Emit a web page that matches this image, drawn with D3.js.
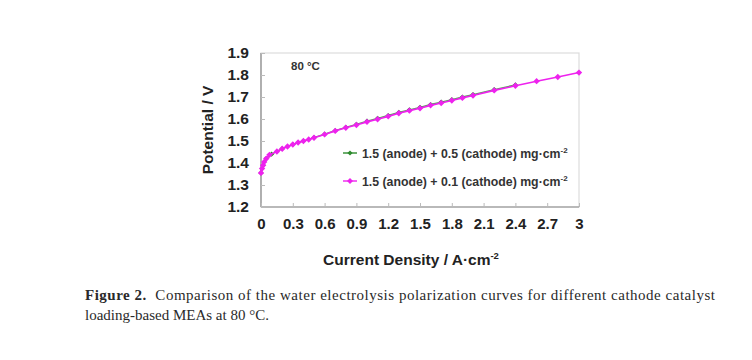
<!DOCTYPE html>
<html><head><meta charset="utf-8">
<script src="https://cdn.jsdelivr.net/npm/d3@7"></script>
<style>body{margin:0;background:#fff}</style>
</head><body>
<script>
const xTicks = [0,0.3,0.6,0.9,1.2,1.5,1.8,2.1,2.4,2.7,3];
const yTicks = [1.2,1.3,1.4,1.5,1.6,1.7,1.8,1.9];
const seriesNames = ["1.5 (anode) + 0.5 (cathode) mg·cm","1.5 (anode) + 0.1 (cathode) mg·cm"];
// magenta series (0.1 cathode)
const jB = [0,0.01,0.02,0.03,0.05,0.08,0.15,0.2,0.25,0.3,0.35,0.4,0.45,0.5,0.6,0.7,0.8,0.9,1.0,1.1,1.2,1.3,1.4,1.5,1.6,1.7,1.8,1.9,2.0,2.2,2.4,2.6,2.8,3.0];
const vB = [1.355,1.375,1.39,1.405,1.42,1.437,1.452,1.465,1.475,1.484,1.493,1.5,1.507,1.515,1.53,1.546,1.56,1.573,1.587,1.599,1.612,1.626,1.638,1.649,1.662,1.673,1.684,1.696,1.707,1.73,1.751,1.772,1.791,1.811];
// green series (0.5 cathode)
const jA = [0,0.02,0.05,0.1,0.2,0.3,0.4,0.5,0.6,0.7,0.8,0.9,1.0,1.1,1.2,1.3,1.4,1.5,1.6,1.7,1.8,1.9,2.0,2.2,2.4];
const vA = [1.355,1.39,1.42,1.44,1.465,1.484,1.5,1.515,1.531,1.547,1.562,1.576,1.59,1.603,1.616,1.63,1.642,1.653,1.666,1.677,1.688,1.7,1.711,1.734,1.755];

const W=752,H=360;
const svg=d3.select("body").append("svg").attr("width",W).attr("height",H);
const L=261,R=579,T=53,B=207;
const x=d3.scaleLinear().domain([0,3]).range([L,R]);
const y=d3.scaleLinear().domain([1.2,1.9]).range([B,T]);
const font="Liberation Sans, Arial, sans-serif";

// frame
svg.append("rect").attr("x",L).attr("y",T).attr("width",R-L).attr("height",B-T)
  .attr("fill","none").attr("stroke","#dcdcdc").attr("stroke-width",1.2);
svg.append("line").attr("x1",L).attr("x2",L).attr("y1",T).attr("y2",B).attr("stroke","#888").attr("stroke-width",1.2);
svg.append("line").attr("x1",L).attr("x2",R).attr("y1",B).attr("y2",B).attr("stroke","#888").attr("stroke-width",1.2);

// axes
const xa=svg.append("g").attr("transform",`translate(0,${B})`)
  .call(d3.axisBottom(x).tickValues(xTicks).tickSizeInner(-4).tickSizeOuter(0).tickPadding(11).tickFormat(d=>d3.format("")(d)));
xa.select(".domain").remove();
xa.selectAll("line").attr("stroke","#bbb");
xa.selectAll("text").attr("font-family",font).attr("font-weight","bold").attr("font-size",15).attr("fill","#222");

const ya=svg.append("g").attr("transform",`translate(${L},0)`)
  .call(d3.axisLeft(y).tickValues(yTicks).tickSizeInner(-4).tickSizeOuter(0).tickPadding(12).tickFormat(d3.format(".1f")));
ya.select(".domain").remove();
ya.selectAll("line").attr("stroke","#bbb");
ya.selectAll("text").attr("font-family",font).attr("font-weight","bold").attr("font-size",15.5).attr("fill","#222");

// series
const line=d3.line().x(d=>x(d[0])).y(d=>y(d[1]));
const dA=jA.map((j,i)=>[j,vA[i]]), dB=jB.map((j,i)=>[j,vB[i]]);
const green="#2e8b2e", mag="#ee22ee";
function diamond(g,cx,cy,s,c){g.append("path").attr("d",`M${cx},${cy-s}L${cx+s},${cy}L${cx},${cy+s}L${cx-s},${cy}Z`).attr("fill",c);}
svg.append("path").datum(dA).attr("d",line).attr("fill","none").attr("stroke",green).attr("stroke-width",1.3).attr("opacity",0.8);
const gA=svg.append("g");
dA.forEach(d=>diamond(gA,x(d[0]),y(d[1]),2.6,green));
svg.append("path").datum(dB).attr("d",line).attr("fill","none").attr("stroke",mag).attr("stroke-width",1.6);
const gB=svg.append("g");
dB.forEach(d=>diamond(gB,x(d[0]),y(d[1]),3.2,mag));

// legend
const leg=[{c:green,y:153,t:seriesNames[0]},{c:mag,y:181,t:seriesNames[1]}];
leg.forEach(l=>{
  svg.append("line").attr("x1",343).attr("x2",357).attr("y1",l.y).attr("y2",l.y).attr("stroke",l.c).attr("stroke-width",1.4);
  diamond(svg,350,l.y,l.c===mag?3:2.6,l.c);
  const t=svg.append("text").attr("x",362).attr("y",l.y+4.5).attr("font-family",font).attr("font-weight","bold").attr("font-size",12.3).attr("fill","#333").text(l.t);
  t.append("tspan").attr("font-size",8).attr("dy",-5).text("-2");
});

svg.append("text").attr("x",291).attr("y",70).attr("font-family",font).attr("font-weight","bold").attr("font-size",11.5).attr("fill","#333").text("80 °C");

// axis titles
const xt=svg.append("text").attr("x",411).attr("y",265).attr("text-anchor","middle").attr("font-family",font).attr("font-weight","bold").attr("font-size",15.5).attr("fill","#222").text("Current Density / A·cm");
xt.append("tspan").attr("font-size",9.5).attr("dy",-6).text("-2");
svg.append("text").attr("transform","translate(213,130) rotate(-90)").attr("text-anchor","middle").attr("font-family",font).attr("font-weight","bold").attr("font-size",15.5).attr("fill","#222").text("Potential / V");

// caption
const serif="Liberation Serif, Times New Roman, serif";
const c1=svg.append("text").attr("x",85).attr("y",300).attr("font-family",serif).attr("font-size",15).attr("fill","#2a2a2a")
  .attr("textLength",630).attr("lengthAdjust","spacing");
c1.append("tspan").attr("font-weight","bold").text("Figure 2.");
c1.append("tspan").text("\u00a0 Comparison of the water electrolysis polarization curves for different cathode catalyst");
svg.append("text").attr("x",85).attr("y",320).attr("font-family",serif).attr("font-size",15).attr("fill","#2a2a2a")
  .text("loading-based MEAs at 80 °C.");
</script>
</body></html>
